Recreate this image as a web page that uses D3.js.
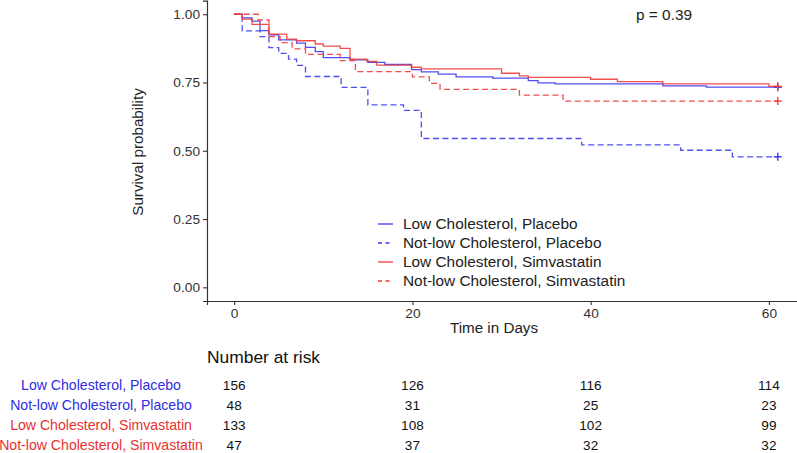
<!DOCTYPE html>
<html>
<head>
<meta charset="utf-8">
<script src="https://cdn.jsdelivr.net/npm/d3@7"></script>
<style>
  body { margin: 0; background: #fff; }
  svg { display: block; font-family: "Liberation Sans", Arial, sans-serif; }
</style>
</head>
<body>
<svg id="chart"></svg>
<script>
// group names and colours
var groups = ["Low Cholesterol, Placebo", "Not-low Cholesterol, Placebo",
              "Low Cholesterol, Simvastatin", "Not-low Cholesterol, Simvastatin"];
var groupColors = ["#3c3cf0", "#3c3cf0", "#f03c3c", "#f03c3c"];
var labelColors = ["#2e2ee0", "#2e2ee0", "#e83030", "#e83030"];
var groupDashed = [false, true, false, true];

// step curves (time in days, survival)
var lowPlaceboTime = [0, 0.9, 2.0, 2.9, 3.9, 5.0, 7.0, 8.0, 9.1, 10.0, 13.0, 15.0, 16.9, 19.9, 21.0, 22.9, 24.9, 29.0, 33.0, 34.1, 36.0, 48.1, 53.0];
var lowPlaceboSurv = [1.0, 0.987, 0.975, 0.94, 0.925, 0.906, 0.894, 0.879, 0.863, 0.841, 0.833, 0.824, 0.816, 0.797, 0.789, 0.781, 0.771, 0.766, 0.757, 0.749, 0.745, 0.738, 0.733];

var notLowPlaceboTime = [0, 0.9, 2.9, 3.9, 5.0, 6.1, 7.0, 8.0, 12.0, 15.0, 19.0, 21.0, 39.0, 50.1, 55.9];
var notLowPlaceboSurv = [1.0, 0.939, 0.918, 0.878, 0.857, 0.836, 0.813, 0.772, 0.732, 0.668, 0.648, 0.545, 0.522, 0.502, 0.478];

var lowSimvaTime = [0, 0.9, 2.0, 3.9, 5.9, 7.0, 9.1, 10.0, 11.9, 13.0, 14.9, 16.0, 19.9, 21.0, 30.0, 32.0, 33.0, 40.0, 43.0, 48.1, 60.0];
var lowSimvaSurv = [1.0, 0.982, 0.963, 0.927, 0.909, 0.903, 0.891, 0.883, 0.875, 0.836, 0.827, 0.814, 0.806, 0.800, 0.784, 0.774, 0.769, 0.762, 0.753, 0.745, 0.736];

var notLowSimvaTime = [0, 2.7, 3.9, 5.15, 6.5, 8.0, 11.9, 13.6, 20.0, 21.9, 23.1, 32.0, 36.9];
var notLowSimvaSurv = [1.0, 0.979, 0.918, 0.896, 0.873, 0.853, 0.830, 0.790, 0.771, 0.747, 0.725, 0.704, 0.682];

var endTime = 61;

// number at risk table
var riskTimes = [0, 20, 40, 60];
var riskLowPlacebo = [156, 126, 116, 114];
var riskNotLowPlacebo = [48, 31, 25, 23];
var riskLowSimva = [133, 108, 102, 99];
var riskNotLowSimva = [47, 37, 32, 32];

var xTicks = [0, 20, 40, 60];
var yTicks = [0, 0.25, 0.5, 0.75, 1];
var pValueText = "p = 0.39";

var w = 797, h = 453;
var svg = d3.select("#chart").attr("width", w).attr("height", h);

var x = d3.scaleLinear().domain([-3.05, 64.05]).range([207, 805]);
var y = d3.scaleLinear().domain([-0.05, 1.05]).range([301, 0.6]);

var series = [
  {t: lowPlaceboTime, s: lowPlaceboSurv},
  {t: notLowPlaceboTime, s: notLowPlaceboSurv},
  {t: lowSimvaTime, s: lowSimvaSurv},
  {t: notLowSimvaTime, s: notLowSimvaSurv}
].map(function(d, i) {
  var pts = d.t.map(function(t, j) { return [t, d.s[j]]; });
  pts.push([endTime, d.s[d.s.length - 1]]);
  return {pts: pts, color: groupColors[i], dashed: groupDashed[i]};
});

// axes
var xAxis = d3.axisBottom(x).tickValues(xTicks).tickSize(4).tickPadding(3).tickFormat(d3.format("d"));
var yAxis = d3.axisLeft(y).tickValues(yTicks).tickSize(4).tickPadding(3).tickFormat(d3.format(".2f"));

var gx = svg.append("g").attr("transform", "translate(0,301)").call(xAxis);
var gy = svg.append("g").attr("transform", "translate(207,0)").call(yAxis);
[gx, gy].forEach(function(g) {
  g.select(".domain").attr("stroke", "#333").attr("stroke-width", 1.2);
  g.selectAll(".tick line").attr("stroke", "#333").attr("stroke-width", 1.1);
  g.selectAll(".tick text").attr("fill", "#333").attr("font-size", "13.7px")
    .attr("font-family", "Liberation Sans, Arial, sans-serif");
});

// curves
var line = d3.line()
  .x(function(d) { return x(d[0]); })
  .y(function(d) { return y(d[1]); })
  .curve(d3.curveStepAfter);

svg.selectAll("path.km")
  .data(series)
  .join("path")
  .attr("class", "km")
  .attr("d", function(d) { return line(d.pts); })
  .attr("fill", "none")
  .attr("stroke", function(d) { return d.color; })
  .attr("stroke-width", 1.3)
  .attr("stroke-opacity", 0.9)
  .attr("stroke-dasharray", function(d) { return d.dashed ? "6,3.5" : null; });

// censor marks at the end
svg.selectAll("g.cens")
  .data(series)
  .join("g")
  .attr("class", "cens")
  .attr("transform", function(d) {
    var last = d.pts[d.pts.length - 1];
    return "translate(" + x(last[0]) + "," + y(last[1]) + ")";
  })
  .each(function(d) {
    var g = d3.select(this);
    g.append("line").attr("x1", -4).attr("x2", 4).attr("stroke", d.color).attr("stroke-width", 1.4);
    g.append("line").attr("y1", -4).attr("y2", 4).attr("stroke", d.color).attr("stroke-width", 1.4);
  });

// axis titles
svg.append("text")
  .attr("transform", "translate(143,152) rotate(-90)")
  .attr("text-anchor", "middle")
  .attr("font-size", "15.2px")
  .attr("fill", "#222")
  .text("Survival probability");

svg.append("text")
  .attr("x", 494).attr("y", 333)
  .attr("text-anchor", "middle")
  .attr("font-size", "15.2px")
  .attr("fill", "#222")
  .text("Time in Days");

svg.append("text")
  .attr("x", 636).attr("y", 20)
  .attr("font-size", "15.4px")
  .attr("fill", "#222")
  .text(pValueText);

// legend
var legend = svg.append("g").attr("transform", "translate(378,224)");
groups.forEach(function(name, i) {
  var row = legend.append("g").attr("transform", "translate(0," + (i * 19) + ")");
  row.append("line").attr("x1", 0).attr("x2", 15)
    .attr("stroke", groupColors[i]).attr("stroke-width", 1.3)
    .attr("stroke-dasharray", groupDashed[i] ? "4,3.5" : null);
  row.append("text").attr("x", 25).attr("dy", "0.35em")
    .attr("font-size", "15.4px").attr("fill", "#222").text(name);
});

// number at risk
svg.append("text")
  .attr("x", 207).attr("y", 363)
  .attr("font-size", "17.4px")
  .attr("fill", "#111")
  .text("Number at risk");

var riskRows = [riskLowPlacebo, riskNotLowPlacebo, riskLowSimva, riskNotLowSimva];
var rowY = d3.scalePoint().domain(d3.range(4)).range([385, 445]);

riskRows.forEach(function(vals, i) {
  svg.append("text")
    .attr("x", 101).attr("y", rowY(i)).attr("dy", "0.35em")
    .attr("text-anchor", "middle")
    .attr("font-size", "14.1px")
    .attr("fill", labelColors[i])
    .text(groups[i]);
  svg.selectAll("text.risk" + i)
    .data(vals)
    .join("text")
    .attr("class", "risk" + i)
    .attr("x", function(d, j) { return x(riskTimes[j]); })
    .attr("y", rowY(i)).attr("dy", "0.35em")
    .attr("text-anchor", "middle")
    .attr("font-size", "13.6px")
    .attr("fill", "#111")
    .text(function(d) { return d; });
});
</script>
</body>
</html>
